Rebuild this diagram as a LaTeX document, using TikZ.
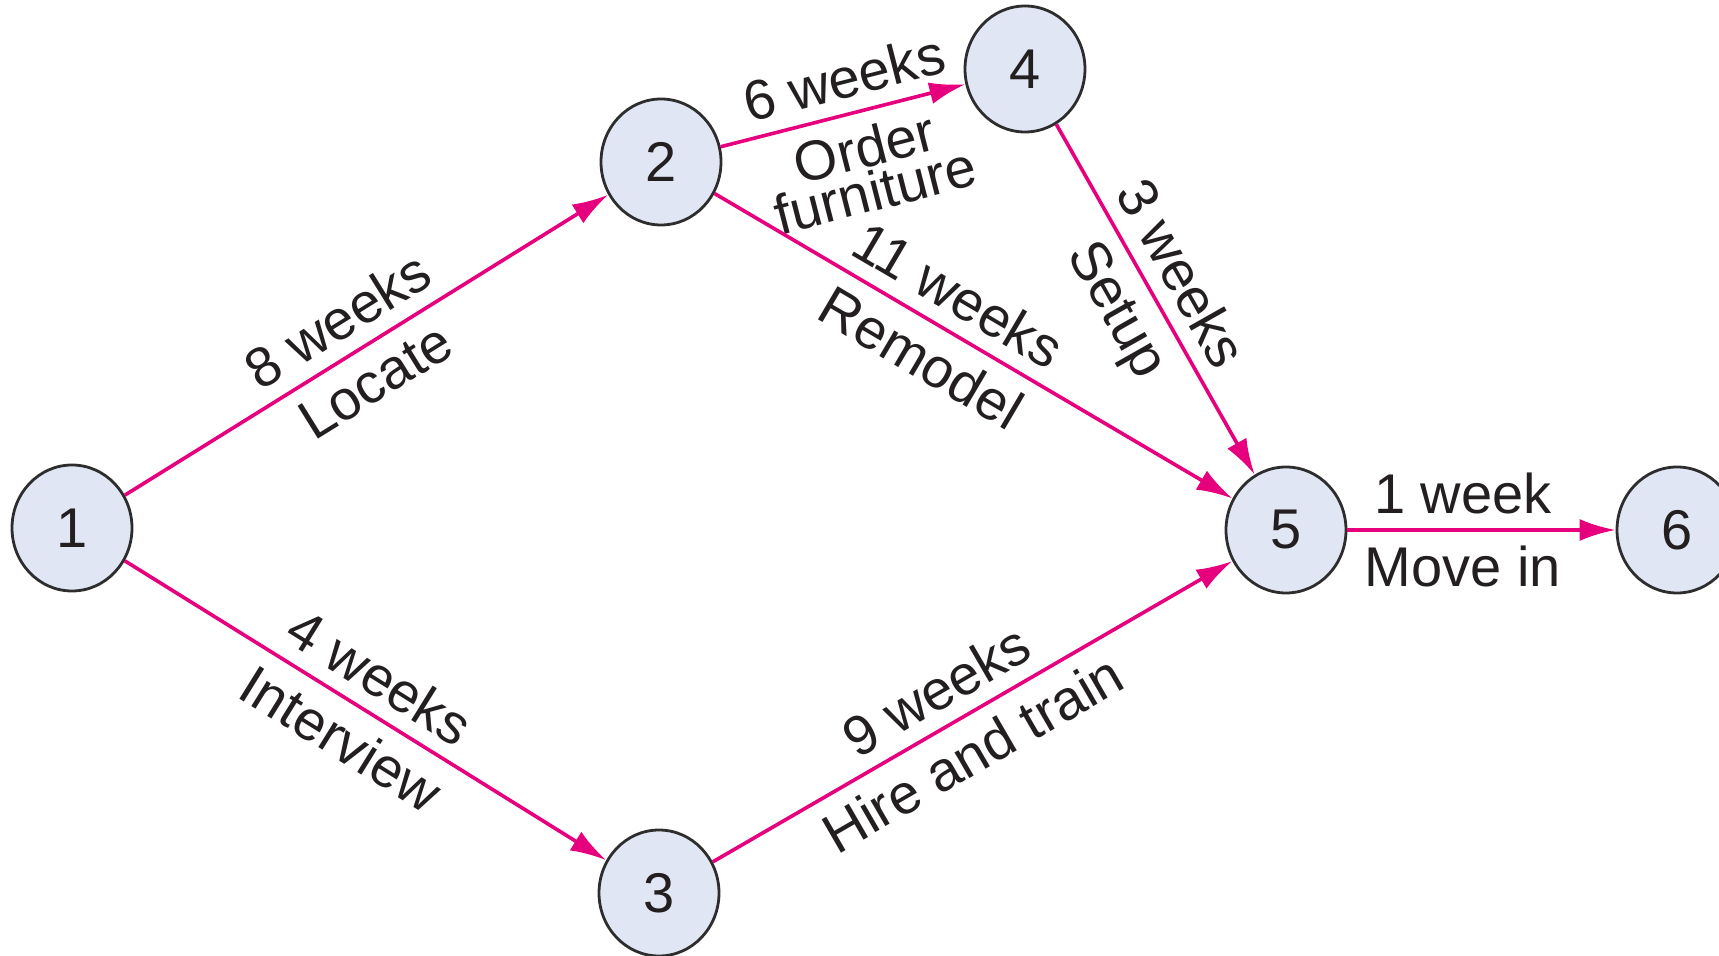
\documentclass[tikz,border=0pt]{standalone}
\usepackage{fontspec}
\setmainfont{Liberation Sans}
\usetikzlibrary{arrows.meta, shapes.geometric}

\definecolor{actpink}{RGB}{230,0,126}
\definecolor{eventfill}{RGB}{225,230,244}
\definecolor{eventdraw}{RGB}{45,45,45}
\definecolor{labeltext}{RGB}{35,31,32}

\begin{document}
\begin{tikzpicture}[x=0.5pt, y=-0.5pt,
		event/.style={ellipse, draw=eventdraw, line width=1.4pt, fill=eventfill, minimum width=60pt, minimum height=63pt, inner sep=0pt, text=labeltext, font=\fontsize{28}{30}\selectfont},
		act/.style={-{Latex[length=18pt, width=11pt]}, actpink, line width=1.8pt},
		lbl/.style={sloped, inner sep=7pt, text=labeltext, font=\fontsize{28}{30}\selectfont}]
		\useasboundingbox (0,0) rectangle (1719,956);
		\clip (0,0) rectangle (1719,956);
		
		% Define nodes (events)
		\node[event] (1) at (72,528) {1};
		\node[event] (2) at (661,162) {2};
		\node[event] (3) at (659,893) {3};
		\node[event] (4) at (1025,69) {4};
		\node[event] (5) at (1286,530) {5};
		\node[event] (6) at (1677,530) {6};
		
		% Draw activities
		\draw[act] (1) -- node[lbl, above, pos=0.48] {8 weeks} node[lbl, below, pos=0.48] {Locate} (2);
		\draw[act] (1) -- node[lbl, above, pos=0.49] {4 weeks} node[lbl, below, pos=0.49] {Interview} (3);
		\draw[act] (2) -- node[lbl, above, pos=0.54] {6 weeks} node[lbl, below, pos=0.55, align=center, font=\fontsize{28}{22}\selectfont] {Order\\furniture} (4);
		\draw[act] (2) -- node[lbl, above, pos=0.435] {11 weeks} node[lbl, below, pos=0.435] {Remodel} (5);
		\draw[act] (4) -- node[lbl, above, pos=0.475] {3 weeks} node[lbl, below, pos=0.475] {Setup} (5);
		\draw[act] (3) -- node[lbl, above, pos=0.465] {9 weeks} node[lbl, below, pos=0.465] {Hire and train} (5);
		\draw[act] (5) -- node[lbl, above, pos=0.43] {1 week} node[lbl, below, pos=0.43] {Move in} (6);
	\end{tikzpicture}
\end{document}
